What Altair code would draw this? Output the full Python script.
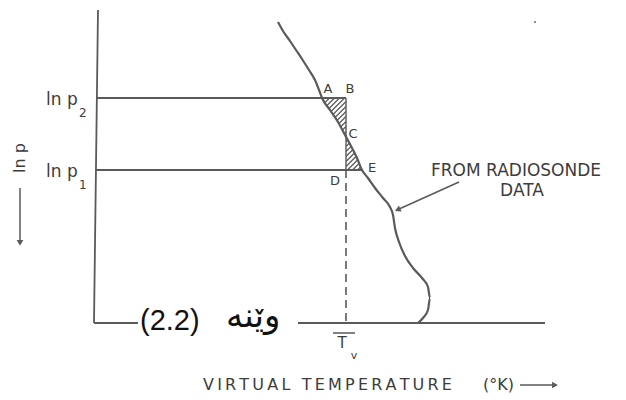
import altair as alt
import pandas as pd

# Diagram coordinates: x = virtual temperature units, y = depth units (0 at top)
W, H = 626, 400

# Radiosonde sounding curve
curve_t = [278, 283, 290, 296, 302, 309, 315, 319, 322, 330, 338, 345, 352, 357, 362,
           368, 375, 383, 390, 393, 395, 399, 405, 413, 422, 428, 430, 428, 423, 418]
curve_y = [22, 31, 41, 50, 59, 70, 80, 90, 98, 110, 122, 135, 148, 158, 170,
           178, 188, 198, 207, 215, 228, 242, 256, 268, 278, 287, 298, 310, 318, 323]

# Pressure levels ln p2 (upper) and ln p1 (lower)
level_y = [98, 170]
level_end = [346, 362]

# Construction points
pt_names = ["A", "B", "C", "D", "E"]
pt_t = [322, 346, 346, 346, 362]
pt_y = [98, 98, 134, 170, 170]

# Axes
axis_left_top, axis_left_bottom = (98, 10), (94, 323)
axis_base_y = 323
axis_base_end = 545
caption_gap = (138, 298)

LINE = "#5a5a5a"
TEXT = "#3c3c3c"

xs = alt.Scale(domain=[0, W], nice=False, zero=False)
ys = alt.Scale(domain=[H, 0], nice=False, zero=False)


def X(f):
    return alt.X(f, type="quantitative", scale=xs, axis=None)


def Y(f):
    return alt.Y(f, type="quantitative", scale=ys, axis=None)


def segs(rows, **mark):
    df = pd.DataFrame(rows, columns=["x", "y", "x2", "y2"])
    return alt.Chart(df).mark_rule(**mark).encode(
        x=X("x"), y=Y("y"), x2="x2", y2="y2")


def texts(rows, **mark):
    df = pd.DataFrame(rows, columns=["x", "y", "t"])
    return alt.Chart(df).mark_text(**mark).encode(x=X("x"), y=Y("y"), text="t:N")


def spaced(s):
    return "\u2009".join(s)


P = {n: (t, y) for n, t, y in zip(pt_names, pt_t, pt_y)}


def hatch(tri, step=5.0):
    s = [p[0] + p[1] for p in tri]
    out = []
    c = min(s) + step / 2
    while c < max(s):
        pts = []
        for i in range(3):
            p, q = tri[i], tri[(i + 1) % 3]
            fp, fq = p[0] + p[1] - c, q[0] + q[1] - c
            if fp * fq < 0:
                k = fp / (fp - fq)
                pts.append((p[0] + k * (q[0] - p[0]), p[1] + k * (q[1] - p[1])))
        if len(pts) == 2:
            out.append([pts[0][0], pts[0][1], pts[1][0], pts[1][1]])
        c += step
    return out


curve = alt.Chart(pd.DataFrame({"t": curve_t, "y": curve_y, "o": range(len(curve_t))})).mark_line(
    color=LINE, strokeWidth=2.2, interpolate="monotone").encode(
    x=X("t"), y=Y("y"), order="o:Q")

axes = segs([
    [*axis_left_top, *axis_left_bottom],
    [axis_left_bottom[0], axis_base_y, caption_gap[0], axis_base_y],
    [caption_gap[1], axis_base_y, axis_base_end, axis_base_y],
    [97, level_y[0], level_end[0], level_y[0]],
    [96, level_y[1], level_end[1], level_y[1]],
], color=LINE, strokeWidth=1.8)

tri1 = [P["A"], P["B"], P["C"]]
tri2 = [P["C"], P["D"], P["E"]]
edges = segs([
    [*P["B"], *P["C"]],
    [*P["C"], *P["D"]],
], color=LINE, strokeWidth=1.4)
hatching = segs(hatch(tri1) + hatch(tri2), color=LINE, strokeWidth=1.3)

dashed = segs([[P["D"][0], P["D"][1], P["D"][0], axis_base_y]],
              color=LINE, strokeWidth=1.6, strokeDash=[8, 5])

# Arrows: shafts, heads, and the bar over T_v
arrow_shafts = segs([
    [20, 188, 20, 240],
    [459, 182, 398, 209.5],
    [520, 385, 553, 385],
    [333, 333, 355, 333],
], color=LINE, strokeWidth=1.5)
heads = pd.DataFrame({"x": [20, 398.5, 554], "y": [242, 209.3, 385], "a": [180, 246, 90]})
arrow_heads = alt.Chart(heads).mark_point(
    shape="triangle", filled=True, color=LINE, size=45, opacity=1, strokeWidth=0).encode(
    x=X("x"), y=Y("y"), angle=alt.Angle("a:Q", scale=None))

speck = alt.Chart(pd.DataFrame({"x": [535], "y": [22]})).mark_point(
    shape="circle", filled=True, color="#777", size=5, opacity=1).encode(x=X("x"), y=Y("y"))

font = "DejaVu Sans"
lnp_main = texts([[46, 105, "ln p"], [46, 177, "ln p"]],
                 font=font, fontSize=17, color=TEXT, align="left", baseline="alphabetic")
lnp_sub = texts([[79, 117, "2"], [79, 189, "1"]],
                font=font, fontSize=12, color=TEXT, align="left", baseline="alphabetic")
lnp_axis = texts([[20, 158, "ln p"]], font=font, fontSize=16, color=TEXT,
                 angle=270, align="center", baseline="middle")
pt_labels = texts([[328, 89, "A"], [350, 89, "B"], [353, 134, "C"], [335, 181, "D"], [372, 168, "E"]],
                  font=font, fontSize=13, color=TEXT, align="center", baseline="middle")
note = texts([[516, 171, "FROM RADIOSONDE"], [522, 191, "DATA"]],
             font=font, fontSize=17, color=TEXT, align="center", baseline="middle")
xtitle = texts([[203, 385, spaced("VIRTUAL TEMPERATURE")], [483, 385, "(°K)"]],
               font=font, fontSize=16, color=TEXT, align="left", baseline="middle")
tv_main = texts([[342, 348, "T"]], font=font, fontSize=15, color=TEXT, align="center", baseline="alphabetic")
tv_sub = texts([[354, 359, "v"]], font=font, fontSize=11, color=TEXT, align="center", baseline="alphabetic")
cap_num = texts([[140, 321, "(2.2)"]], font="Liberation Sans", fontSize=29, color="#111",
                align="left", baseline="middle")
cap_word = texts([[226, 327, "وێنه"]], font=font, fontSize=34, color="#111",
                 align="left", baseline="alphabetic")

chart = alt.layer(
    axes, dashed, hatching, edges, curve, arrow_shafts, arrow_heads, speck,
    lnp_main, lnp_sub, lnp_axis, pt_labels, note, xtitle, tv_main, tv_sub, cap_num, cap_word,
).properties(width=W, height=H, background="white", padding=0,
             autosize=alt.AutoSizeParams(type="none")).configure_view(strokeWidth=0)

chart.save("out.html", embed_options={"renderer": "svg", "actions": False})
